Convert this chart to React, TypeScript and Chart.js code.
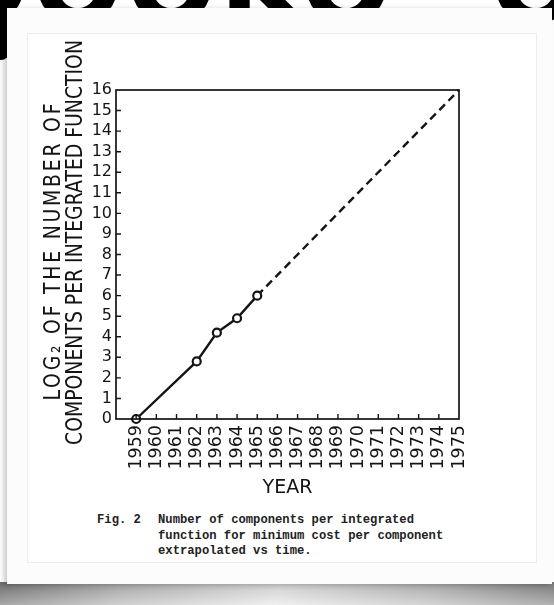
import React, { useEffect, useRef } from "react";
import { Chart, registerables } from "chart.js";

Chart.register(...registerables);

// ---- data ----
const measuredYears = [1959, 1962, 1963, 1964, 1965];
const measuredLog2 = [0, 2.8, 4.2, 4.9, 6];
const extrapolatedYears = [1965, 1975];
const extrapolatedLog2 = [6, 16];
const yearMin = 1958;
const yearMax = 1975;
const log2Min = 0;
const log2Max = 16;
const yTitleLines = ["LOG₂ OF THE NUMBER OF", "COMPONENTS PER INTEGRATED FUNCTION"];
const xTitle = "YEAR";
const captionLabel = "Fig. 2";
const captionLines = [
  "Number of components per integrated",
  "function for minimum cost per component",
  "extrapolated vs time.",
];
const backdropText = "OOOKO \u2013O";

const INK = "#141414";
const FONT = "'DejaVu Sans', sans-serif";

const paperPlugin = {
  id: "paper",
  afterDatasetsDraw(chart: any) {
    const { ctx, chartArea: a, scales } = chart;
    const xs = scales.x;
    const ys = scales.y;
    ctx.save();
    ctx.strokeStyle = INK;
    ctx.lineWidth = 1.7;
    ctx.strokeRect(a.left, a.top, a.right - a.left, a.bottom - a.top);
    ctx.lineWidth = 1.4;
    ctx.beginPath();
    xs.ticks.forEach((t: any) => {
      if (t.value <= yearMin || t.value >= yearMax) return;
      const px = xs.getPixelForValue(t.value);
      ctx.moveTo(px, a.bottom);
      ctx.lineTo(px, a.bottom - 5);
    });
    ys.ticks.forEach((t: any) => {
      if (t.value <= log2Min || t.value >= log2Max) return;
      const py = ys.getPixelForValue(t.value);
      ctx.moveTo(a.left, py);
      ctx.lineTo(a.left + 5, py);
    });
    ctx.stroke();
    ctx.restore();
  },
  afterDraw(chart: any) {
    const { ctx, chartArea: a } = chart;
    const mid = (a.top + a.bottom) / 2;
    ctx.save();
    ctx.fillStyle = INK;
    ctx.font = `23px ${FONT}`;
    ctx.textAlign = "center";
    ctx.textBaseline = "middle";
    const w2 = ctx.measureText(yTitleLines[1]).width;
    const sx = 405 / w2;
    const w1 = ctx.measureText(yTitleLines[0]).width;
    const spacing = (297 / sx - w1) / (yTitleLines[0].length - 1);
    const lines = [
      { text: yTitleLines[0], x: a.left - 62, y: mid - 2.5, ls: spacing },
      { text: yTitleLines[1], x: a.left - 40, y: mid - 12, ls: 0 },
    ];
    lines.forEach((l) => {
      ctx.save();
      ctx.translate(l.x, l.y);
      ctx.rotate(-Math.PI / 2);
      ctx.scale(sx, 1);
      (ctx as any).letterSpacing = `${l.ls}px`;
      ctx.fillText(l.text, l.ls / 2, 0);
      ctx.restore();
    });
    ctx.restore();
  },
};

function MooreChart() {
  const ref = useRef<HTMLCanvasElement | null>(null);
  useEffect(() => {
    if (!ref.current) return;
    const chart = new Chart(ref.current, {
      type: "line",
      data: {
        datasets: [
          {
            data: measuredYears.map((x, i) => ({ x, y: measuredLog2[i] })),
            borderColor: INK,
            borderWidth: 2.4,
            pointRadius: 4,
            pointBorderWidth: 2.2,
            pointBackgroundColor: "#ffffff",
            pointBorderColor: INK,
            tension: 0,
            clip: false,
          } as any,
          {
            data: extrapolatedYears.map((x, i) => ({ x, y: extrapolatedLog2[i] })),
            borderColor: INK,
            borderWidth: 2.4,
            borderDash: [8, 5],
            pointRadius: 0,
            tension: 0,
            clip: false,
          } as any,
        ],
      },
      options: {
        animation: false,
        responsive: false,
        devicePixelRatio: 1,
        layout: { padding: { top: 57, right: 77, left: 0, bottom: 0 } },
        plugins: { legend: { display: false }, tooltip: { enabled: false } },
        scales: {
          x: {
            type: "linear",
            min: yearMin,
            max: yearMax,
            afterFit: (s: any) => {
              s.height = 84;
            },
            grid: { display: false, drawTicks: false },
            border: { display: false },
            ticks: {
              stepSize: 1,
              autoSkip: false,
              minRotation: 90,
              maxRotation: 90,
              padding: 6,
              color: INK,
              font: { family: FONT, size: 17.5 },
              callback: (v: any) => (v <= yearMin ? "" : String(v)),
            },
            title: {
              display: true,
              text: xTitle,
              color: INK,
              font: { family: FONT, size: 19 },
              padding: { top: 0, bottom: 4 },
            },
          },
          y: {
            min: log2Min,
            max: log2Max,
            afterFit: (s: any) => {
              s.width = 89;
            },
            grid: { display: false, drawTicks: false },
            border: { display: false },
            ticks: {
              stepSize: 1,
              autoSkip: false,
              padding: 4,
              color: INK,
              font: { family: FONT, size: 16 },
            },
          },
        },
      } as any,
      plugins: [paperPlugin],
    });
    return () => chart.destroy();
  }, []);
  return <canvas ref={ref} width={509} height={470} style={{ display: "block" }} />;
}

export default function App() {
  return (
    <div
      style={{
        position: "fixed",
        left: 0,
        top: 0,
        width: 554,
        height: 605,
        overflow: "hidden",
        background: "#ffffff",
      }}
    >
      {/* backdrop big lettering peeking behind the card */}
      <div
        style={{
          position: "absolute",
          left: -62,
          top: -70,
          fontFamily: FONT,
          fontWeight: 700,
          fontSize: 108,
          lineHeight: "108px",
          color: "#000",
          whiteSpace: "pre",
          letterSpacing: 2,
        }}
      >
        {backdropText}
      </div>
      <div
        style={{
          position: "absolute",
          left: 0,
          top: 0,
          width: 9,
          height: 60,
          background: "#000",
          borderBottomRightRadius: 8,
        }}
      />
      {/* shadow under card */}
      <div
        style={{
          position: "absolute",
          left: 0,
          top: 582,
          width: 554,
          height: 23,
          background:
            "linear-gradient(to bottom, rgba(0,0,0,0.12), rgba(255,255,255,0.35)), linear-gradient(to right, #7a7a7a 0%, #b8b8b8 22%, #e8e8e8 50%, #bcbcbc 78%, #888888 100%)",
        }}
      />
      {/* card */}
      <div
        style={{
          position: "absolute",
          left: 7,
          top: 8,
          width: 545,
          height: 576,
          background: "#fcfcfc",
          boxShadow: "-3px 1px 5px rgba(0,0,0,0.22)",
        }}
      />
      {/* scanned figure frame */}
      <div
        style={{
          position: "absolute",
          left: 27,
          top: 33,
          width: 510,
          height: 530,
          boxSizing: "border-box",
          border: "1px solid #ececec",
          background: "#ffffff",
        }}
      />
      <div style={{ position: "absolute", left: 27, top: 33 }}>
        <MooreChart />
      </div>
      {/* caption */}
      <div
        style={{
          position: "absolute",
          left: 97,
          top: 513,
          fontFamily: "'Liberation Mono', monospace",
          fontWeight: 700,
          fontSize: 12.2,
          lineHeight: "15.7px",
          color: "#222",
        }}
      >
        {captionLabel}
      </div>
      <div
        style={{
          position: "absolute",
          left: 158,
          top: 513,
          fontFamily: "'Liberation Mono', monospace",
          fontWeight: 700,
          fontSize: 12.2,
          lineHeight: "15.7px",
          color: "#222",
          whiteSpace: "pre",
        }}
      >
        {captionLines.map((l, i) => (
          <div key={i}>{l}</div>
        ))}
      </div>
    </div>
  );
}
